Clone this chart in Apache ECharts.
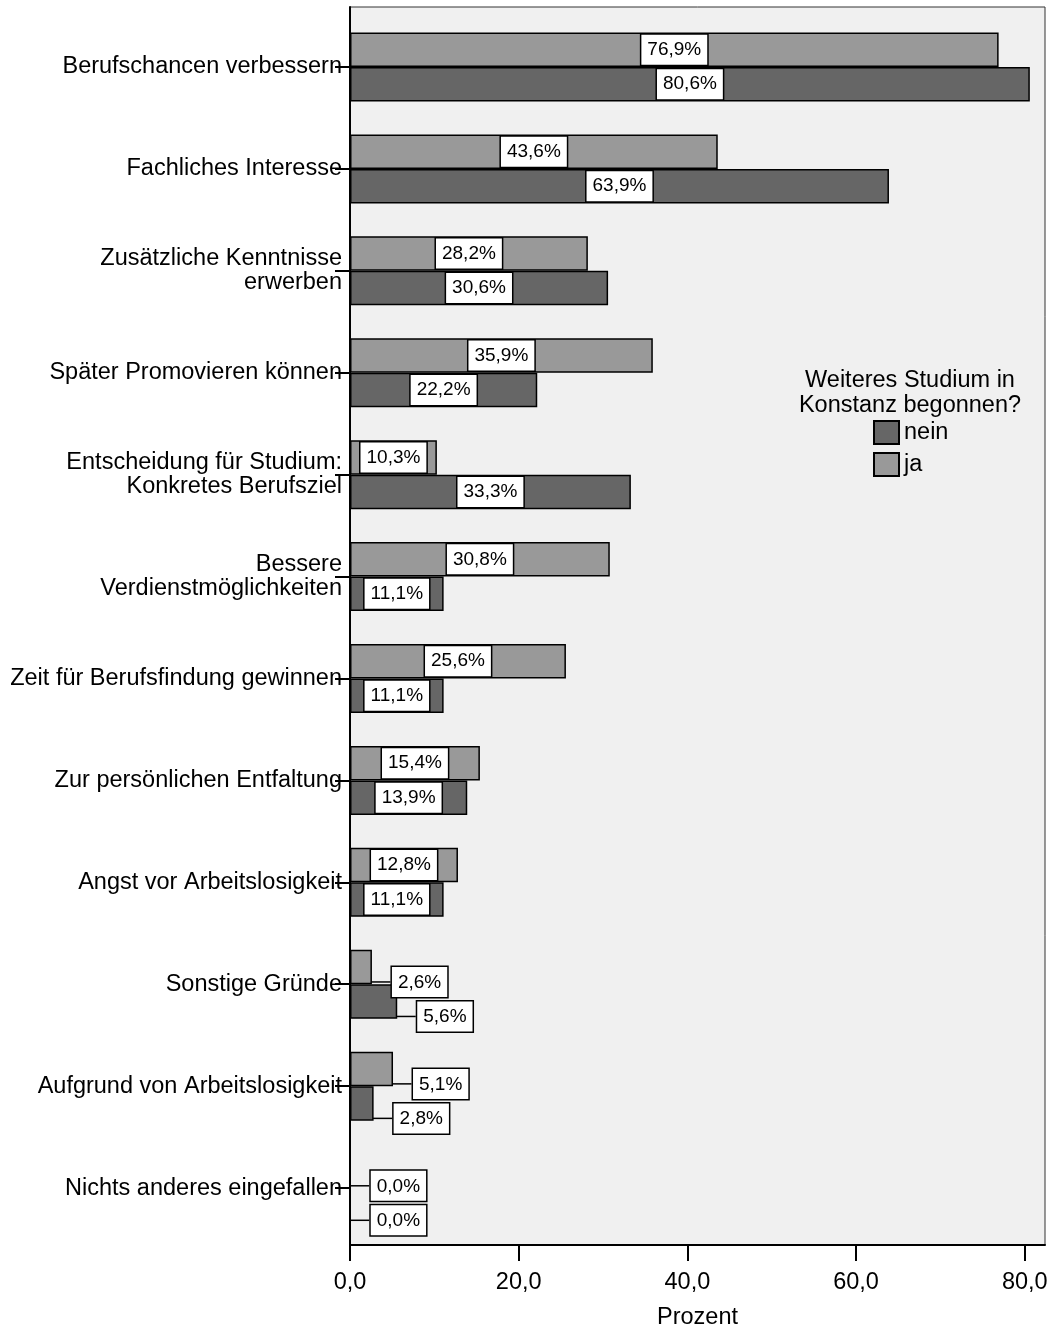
<!DOCTYPE html>
<html>
<head>
<meta charset="utf-8">
<script src="https://cdn.jsdelivr.net/npm/echarts@6/dist/echarts.min.js"></script>
<style>
  html, body { margin: 0; padding: 0; background: #fff; }
  #bar-chart { width: 1053px; height: 1330px; }
</style>
</head>
<body>
<div id="bar-chart"></div>
<script>
// Gründe für ein weiteres Studium
var categories = [
  'Berufschancen verbessern',
  'Fachliches Interesse',
  'Zusätzliche Kenntnisse\nerwerben',
  'Später Promovieren können',
  'Entscheidung für Studium:\nKonkretes Berufsziel',
  'Bessere\nVerdienstmöglichkeiten',
  'Zeit für Berufsfindung gewinnen',
  'Zur persönlichen Entfaltung',
  'Angst vor Arbeitslosigkeit',
  'Sonstige Gründe',
  'Aufgrund von Arbeitslosigkeit',
  'Nichts anderes eingefallen'
]
var jaValues = [76.9, 43.6, 28.2, 35.9, 10.3, 30.8, 25.6, 15.4, 12.8, 2.6, 5.1, 0.0]
var neinValues = [80.6, 63.9, 30.6, 22.2, 33.3, 11.1, 11.1, 13.9, 11.1, 5.6, 2.8, 0.0]
var xTicks = [0, 20, 40, 60, 80]
var xMax = 82.4

var FONT = "'Liberation Sans', Arial, sans-serif"

function fmtPct(v) {
  return v.toFixed(1).replace('.', ',') + '%'
}

// Label passt nicht in den Balken -> rechts daneben mit Linie
function moveSmallLabel(params) {
  if (params.labelRect.width + 4 > params.rect.width) {
    return { x: params.rect.x + params.rect.width + 20, align: 'left' }
  }
  return {}
}

var barLabel = {
  show: true,
  position: 'inside',
  formatter: function (p) { return fmtPct(p.value) },
  color: '#000',
  fontFamily: FONT,
  fontSize: 19,
  lineHeight: 21,
  backgroundColor: '#fff',
  borderColor: '#000',
  borderWidth: 1.5,
  padding: [5, 6, 4, 6]
}

var chart = echarts.init(document.getElementById('bar-chart'))
var option = {
  animation: false,
  textStyle: { fontFamily: FONT },
  grid: [
    {
      left: 350, right: 8, top: 7, bottom: 85,
      outerBoundsMode: 'none',
      show: true,
      backgroundColor: '#f0f0f0',
      borderColor: '#333',
      borderWidth: 1
    },
    { left: 350, right: 8, top: 16, bottom: 91, outerBoundsMode: 'none' }
  ],
  xAxis: [
    {
      gridIndex: 0,
      type: 'value',
      min: 0,
      max: xMax,
      interval: 20,
      name: 'Prozent',
      nameLocation: 'middle',
      nameGap: 61,
      nameTextStyle: { color: '#000', fontSize: 23.5, fontFamily: FONT },
      axisLine: { show: true, lineStyle: { color: '#000', width: 2 } },
      axisTick: { show: true, length: 16, customValues: xTicks, lineStyle: { color: '#000', width: 2 } },
      axisLabel: {
        customValues: xTicks,
        margin: 26,
        color: '#000',
        fontSize: 23.5,
        fontFamily: FONT,
        formatter: function (v) { return v.toFixed(1).replace('.', ',') }
      },
      splitLine: { show: false }
    },
    {
      gridIndex: 1,
      type: 'value',
      min: 0,
      max: xMax,
      show: false
    }
  ],
  yAxis: [
    {
      gridIndex: 0,
      type: 'value',
      axisLine: { show: true, lineStyle: { color: '#000', width: 2 } },
      axisTick: { show: false },
      axisLabel: { show: false },
      splitLine: { show: false }
    },
    {
      gridIndex: 1,
      type: 'category',
      inverse: true,
      data: categories,
      axisLine: { show: true, lineStyle: { color: '#000', width: 2 } },
      axisTick: { show: true, alignWithLabel: true, length: 15, lineStyle: { color: '#000', width: 2 } },
      axisLabel: {
        margin: 8,
        color: '#000',
        fontSize: 23.5,
        lineHeight: 24,
        fontFamily: FONT,
        align: 'right'
      }
    }
  ],
  legend: {
    data: ['nein', 'ja'],
    orient: 'vertical',
    left: 873,
    top: 420,
    padding: 0,
    itemWidth: 25,
    itemHeight: 23,
    itemGap: 7,
    icon: 'rect',
    textStyle: { color: '#000', fontSize: 23.5, fontFamily: FONT }
  },
  graphic: [
    {
      type: 'text',
      x: 910,
      y: 368,
      style: {
        text: 'Weiteres Studium in\nKonstanz begonnen?',
        align: 'center',
        fill: '#000',
        font: '23.5px ' + FONT,
        lineHeight: 25
      }
    }
  ],
  series: [
    {
      name: 'ja',
      type: 'bar',
      xAxisIndex: 1,
      yAxisIndex: 1,
      barWidth: 34.5,
      barGap: '0%',
      data: jaValues,
      itemStyle: { color: '#999999', borderColor: '#000', borderWidth: 1.5 },
      label: barLabel,
      labelLayout: moveSmallLabel,
      labelLine: { show: true, lineStyle: { color: '#000', width: 1.5 } }
    },
    {
      name: 'nein',
      type: 'bar',
      xAxisIndex: 1,
      yAxisIndex: 1,
      barWidth: 34.5,
      barGap: '0%',
      data: neinValues,
      itemStyle: { color: '#666666', borderColor: '#000', borderWidth: 1.5 },
      label: barLabel,
      labelLayout: moveSmallLabel,
      labelLine: { show: true, lineStyle: { color: '#000', width: 1.5 } }
    }
  ]
}
chart.setOption(option)
</script>
</body>
</html>
